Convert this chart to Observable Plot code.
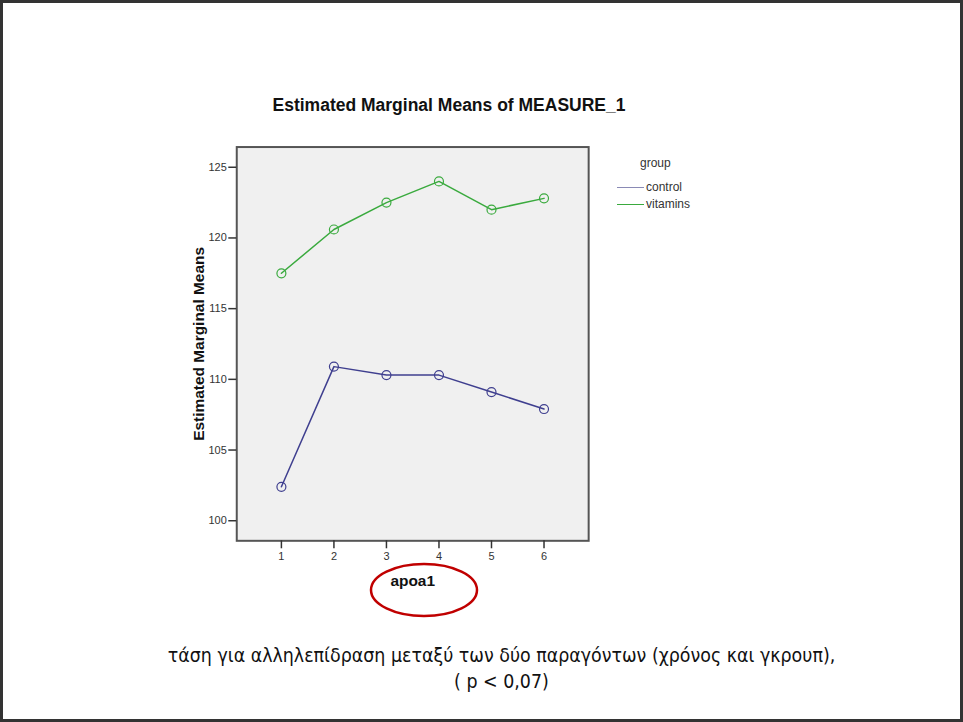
<!DOCTYPE html>
<html>
<head>
<meta charset="utf-8">
<script src="https://cdn.jsdelivr.net/npm/d3@7"></script>
<script src="https://cdn.jsdelivr.net/npm/@observablehq/plot@0.6"></script>
<style>
  html, body { margin: 0; padding: 0; background: #fff; }
  #slide {
    position: relative; width: 963px; height: 722px; box-sizing: border-box;
    border: 3px solid #333; overflow: hidden; background: #fff;
  }
  #chart { position: absolute; left: -3px; top: -3px; }
  .title {
    position: absolute; left: 246px; width: 400px; top: 92px; text-align: center;
    font: bold 17.5px "Liberation Sans", Arial, sans-serif; color: #111;
  }
  .legend { position: absolute; left: 610px; top: 153px; font: 12px "Liberation Sans", Arial, sans-serif; color: #333; }
  .legend .head { position: absolute; left: 27px; top: 0; white-space: nowrap; }
  .legend .row { position: absolute; left: 4px; white-space: nowrap; display: flex; align-items: center; }
  .legend .sw { display: inline-block; width: 27px; height: 0; border-top: 1.5px solid; margin-right: 2px; }
  .caption {
    position: absolute; left: 20px; width: 957px; top: 640px; text-align: center;
    font: 19.4px "Liberation Sans Narrow", "DejaVu Sans Condensed", sans-serif; color: #111; line-height: 26px;
  }
  #ring { position: absolute; left: 0; top: 0; pointer-events: none; }
</style>
</head>
<body>
<div id="slide">
  <div id="chart"></div>
  <div class="title">Estimated Marginal Means of MEASURE_1</div>
  <div class="legend" id="legend"></div>
  <div class="caption">τάση για αλληλεπίδραση μεταξύ των δύο παραγόντων (χρόνος και γκρουπ),<br>( p &lt; 0,07)</div>
  <svg id="ring" width="957" height="716"><ellipse cx="421" cy="587" rx="53" ry="26" fill="none" stroke="#c00000" stroke-width="2.5"/></svg>
</div>
<script>
// Time points (apoa1 levels) and estimated marginal means per group
const timePoints = [1, 2, 3, 4, 5, 6];
const groups = ["control", "vitamins"];
const controlMeans = [102.4, 110.9, 110.3, 110.3, 109.1, 107.9];
const vitaminsMeans = [117.5, 120.6, 122.5, 124.0, 122.0, 122.8];
const yTicks = [100, 105, 110, 115, 120, 125];
const groupColors = ["#3f3f8f", "#3aaa3e"];

const rows = [
  ...timePoints.map((t, i) => ({apoa1: t, mean: controlMeans[i], group: groups[0]})),
  ...timePoints.map((t, i) => ({apoa1: t, mean: vitaminsMeans[i], group: groups[1]}))
];

const intFormat = d3.format("d");

const chart = Plot.plot({
  width: 963,
  height: 722,
  marginLeft: 237,
  marginRight: 373,
  marginTop: 147,
  marginBottom: 180,
  style: {fontFamily: "'Liberation Sans', Arial, sans-serif", fontSize: "11px", color: "#333", background: "transparent"},
  x: {domain: [0.15, 6.85], label: null},
  y: {domain: [98.58, 126.43], label: null},
  color: {domain: groups, range: groupColors},
  marks: [
    Plot.frame({fill: "#f0f0f0", stroke: "none"}),
    Plot.line(rows, {x: "apoa1", y: "mean", z: "group", stroke: "group", strokeWidth: 1.5}),
    Plot.dot(rows, {x: "apoa1", y: "mean", stroke: "group", r: 4.5, strokeWidth: 1.2, fill: "none"}),
    Plot.frame({stroke: "#555", strokeWidth: 2}),
    Plot.axisX({ticks: timePoints, tickFormat: intFormat, tickSize: 8, tickPadding: 3, stroke: "#333", strokeWidth: 1.5, label: null}),
    Plot.axisY({ticks: yTicks, tickFormat: intFormat, tickSize: 8, tickPadding: 2, stroke: "#333", strokeWidth: 1.5, label: null}),
    Plot.text(["Estimated Marginal Means"], {frameAnchor: "left", textAnchor: "middle", rotate: -90, dx: -38, fontSize: 15.5, fontWeight: "bold", fill: "#111"}),
    Plot.text(["apoa1"], {frameAnchor: "bottom", textAnchor: "middle", dy: 45, fontSize: 15.5, fontWeight: "bold", fill: "#111"})
  ]
});
document.getElementById("chart").appendChild(chart);

// Group legend
const legend = d3.select("#legend");
legend.append("div").attr("class", "head").text("group");
groups.forEach((g, i) => {
  const row = legend.append("div").attr("class", "row").style("top", `${24 + i * 17}px`);
  row.append("span").attr("class", "sw").style("border-color", i === 0 ? "#8a8ab5" : groupColors[i]);
  row.append("span").text(g);
});
</script>
</body>
</html>
